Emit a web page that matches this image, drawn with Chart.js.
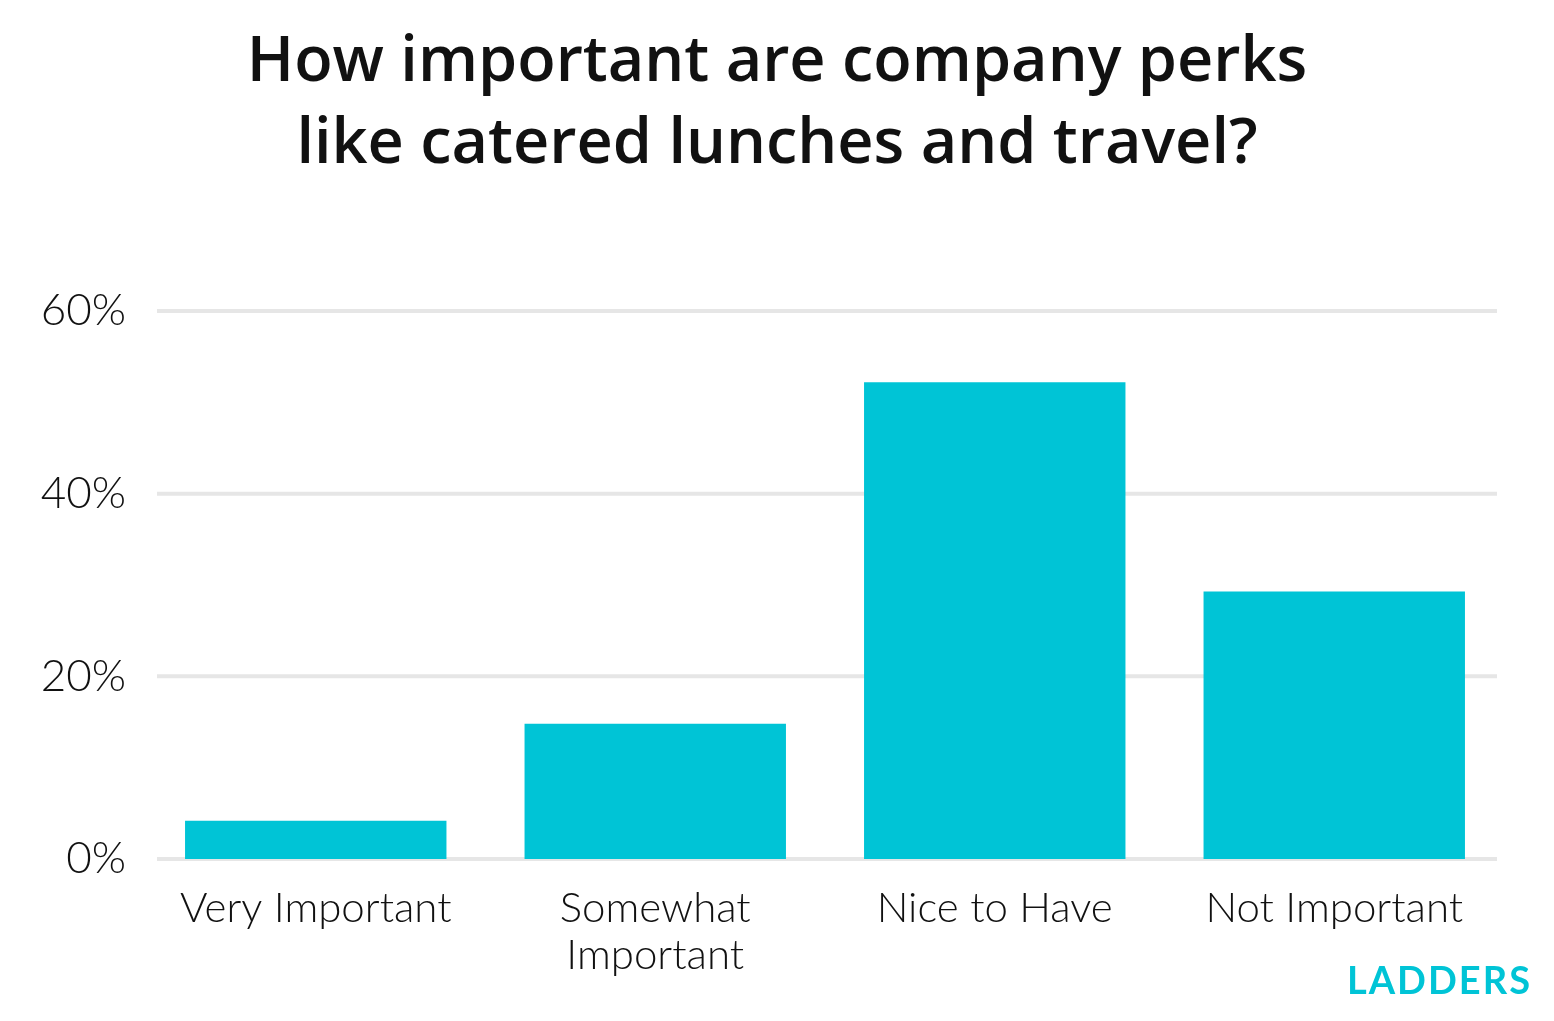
<!DOCTYPE html>
<html>
<head>
<meta charset="utf-8">
<script src="https://cdn.jsdelivr.net/npm/chart.js@4"></script>
<style>
  html, body { margin: 0; padding: 0; background: #fff; }
  .wrap { position: relative; width: 1554px; height: 1021px; }
  .logo {
    position: absolute; right: 22px; top: 956px;
    font: 700 38px Lato, sans-serif; letter-spacing: 2px;
    color: #00c4d6;
  }
</style>
</head>
<body>
<div class="wrap">
  <canvas id="chart" width="1554" height="1021"></canvas>
  <div class="logo">LADDERS</div>
</div>
<script>
// values (share of respondents, %)
const categories = ['Very Important', ['Somewhat', 'Important'], 'Nice to Have', 'Not Important']
const shares = [4.2, 14.8, 52.2, 29.3]
const yTicks = [0, 20, 40, 60]

const BAR = '#00c4d6'

// light grey gridlines, a little shorter than the plot area like the original
const gridLines = {
  id: 'gridLines',
  beforeDatasetsDraw(chart) {
    const { ctx, chartArea, scales } = chart
    ctx.save()
    ctx.strokeStyle = '#e6e6e6'
    ctx.lineWidth = 4
    yTicks.forEach(v => {
      const y = scales.y.getPixelForValue(v)
      ctx.beginPath()
      ctx.moveTo(chartArea.left + 11, y)
      ctx.lineTo(chartArea.right - 7, y)
      ctx.stroke()
    })
    ctx.restore()
  }
}

new Chart(document.getElementById('chart'), {
  type: 'bar',
  data: {
    labels: categories,
    datasets: [{
      data: shares,
      backgroundColor: BAR,
      categoryPercentage: 0.77,
      barPercentage: 1
    }]
  },
  options: {
    responsive: false,
    animation: false,
    layout: { padding: 0 },
    scales: {
      x: {
        grid: { display: false },
        border: { display: false },
        ticks: {
          color: '#111',
          font: { family: 'Lato', size: 42, weight: 300, lineHeight: 1.12 },
          padding: 18,
          maxRotation: 0,
          autoSkip: false
        },
        afterFit(scale) { scale.height = 162 }
      },
      y: {
        min: 0,
        max: 60,
        afterBuildTicks(scale) { scale.ticks = yTicks.map(v => ({ value: v })) },
        grid: { display: false, drawTicks: false },
        border: { display: false },
        ticks: {
          color: '#111',
          font: { family: 'Lato', size: 44, weight: 300 },
          padding: 20,
          callback: v => v + '%'
        },
        afterFit(scale) { scale.width = 146 }
      },
      // empty spacer on the right so the title stays centred on the page
      spacer: {
        position: 'right',
        grid: { display: false },
        border: { display: false },
        ticks: { display: false },
        afterFit(scale) { scale.width = 50 }
      }
    },
    plugins: {
      legend: { display: false },
      tooltip: { enabled: false },
      title: {
        display: true,
        text: ['How important are company perks', 'like catered lunches and travel?'],
        color: '#111',
        font: { family: 'Open Sans', size: 63, weight: 600, lineHeight: '82px' },
        padding: { top: 22, bottom: 125 }
      }
    }
  },
  plugins: [gridLines]
})
</script>
</body>
</html>
